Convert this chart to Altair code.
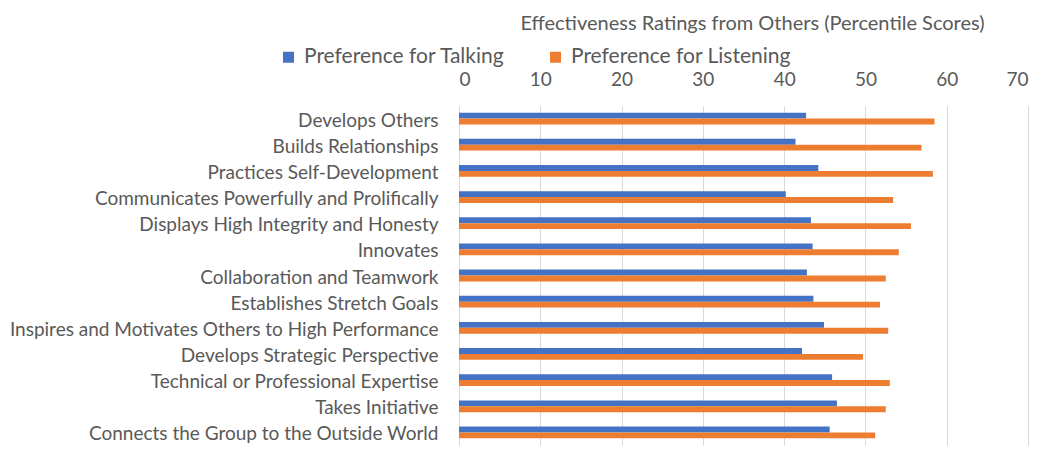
import altair as alt
import pandas as pd

categories = [
    "Develops Others",
    "Builds Relationships",
    "Practices Self-Development",
    "Communicates Powerfully and Prolifically",
    "Displays High Integrity and Honesty",
    "Innovates",
    "Collaboration and Teamwork",
    "Establishes Stretch Goals",
    "Inspires and Motivates Others to High Performance",
    "Develops Strategic Perspective",
    "Technical or Professional Expertise",
    "Takes Initiative",
    "Connects the Group to the Outside World",
]
talking = [42.7, 41.4, 44.2, 40.2, 43.3, 43.5, 42.8, 43.6, 44.9, 42.2, 45.9, 46.5, 45.6]
listening = [58.5, 56.9, 58.3, 53.4, 55.6, 54.1, 52.5, 51.8, 52.8, 49.7, 53.0, 52.5, 51.2]
series = ["Preference for Talking", "Preference for Listening"]
ticks = [0, 10, 20, 30, 40, 50, 60, 70]

rows = []
for c, t, l in zip(categories, talking, listening):
    rows.append({"category": c, "series": series[0], "value": t})
    rows.append({"category": c, "series": series[1], "value": l})
df = pd.DataFrame(rows)

FONT = "Lato"
TXT = "#595959"

chart = alt.Chart(df).mark_bar().encode(
    x=alt.X(
        "value:Q",
        scale=alt.Scale(domain=[0, 70], nice=False),
        axis=alt.Axis(
            orient="top",
            values=ticks,
            title="Effectiveness Ratings from Others (Percentile Scores)",
            titleFont=FONT,
            titleFontSize=20,
            titleFontWeight="normal",
            titleColor=TXT,
            titlePadding=37,
            titleX=293,
            titleAlign="center",
            labelFont=FONT,
            labelFontSize=19,
            labelColor=TXT,
            labelPadding=16,
            ticks=False,
            tickSize=0,
            domain=False,
            grid=True,
            gridColor="#d9d9d9",
            gridWidth=1,
        ),
    ),
    y=alt.Y(
        "category:N",
        sort=categories,
        scale=alt.Scale(paddingInner=0.55, paddingOuter=0.275),
        axis=alt.Axis(
            title=None,
            labelFont=FONT,
            labelFontSize=19,
            labelColor=TXT,
            labelPadding=21,
            labelOffset=2,
            ticks=False,
            tickSize=0,
            domain=False,
            labelLimit=600,
        ),
    ),
    yOffset=alt.YOffset("series:N", sort=series, scale=alt.Scale(padding=0)),
    color=alt.Color(
        "series:N",
        sort=series,
        scale=alt.Scale(domain=series, range=["#4472C4", "#ED7D31"]),
        legend=alt.Legend(
            title=None,
            orient="none",
            direction="horizontal",
            legendX=-181,
            legendY=-59,
            symbolType="square",
            symbolSize=121,
            symbolStrokeWidth=0,
            labelFont=FONT,
            labelFontSize=21,
            labelColor=TXT,
            labelOffset=5,
            columnPadding=40,
            labelLimit=400,
        ),
    ),
).properties(
    width=569,
    height=340,
    autosize=alt.AutoSizeParams(type="none"),
    padding={"left": 451, "top": 97.5, "right": 17, "bottom": 8},
).configure_view(strokeWidth=0)

chart.save("out.html", embed_options={"renderer": "svg", "actions": False})
